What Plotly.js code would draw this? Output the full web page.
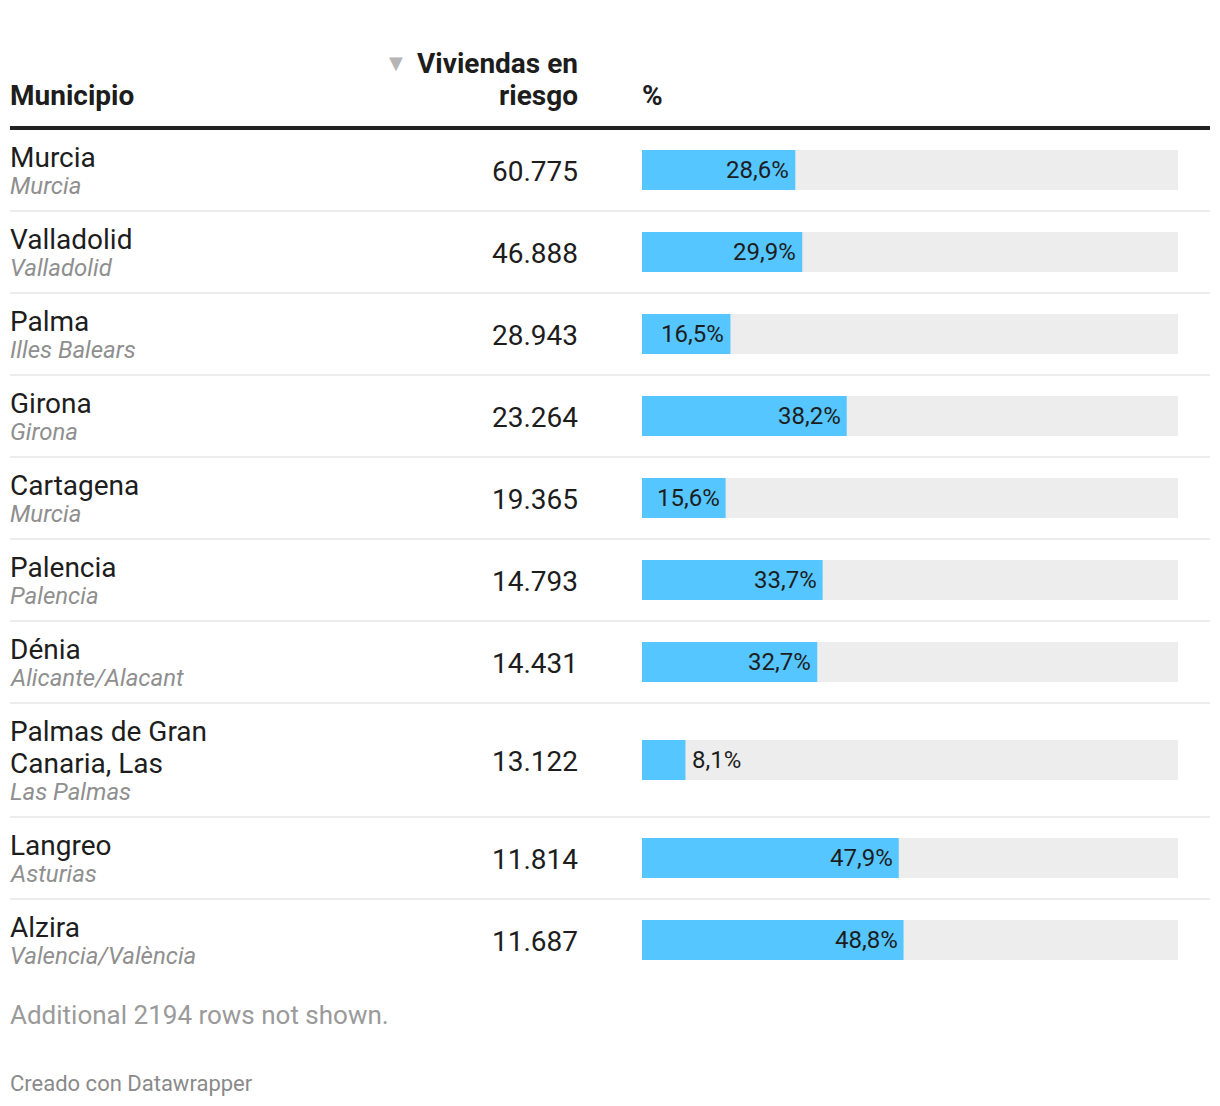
<!DOCTYPE html>
<html>
<head>
<meta charset="utf-8">
<script src="https://cdn.plot.ly/plotly-3.0.1.min.js"></script>
<style>
  html, body { margin: 0; padding: 0; background: #ffffff; }
  #chart { width: 1220px; height: 1106px; }
</style>
</head>
<body>
<div id="chart"></div>
<script>
// ---- Data ----
const municipios = ["Murcia", "Valladolid", "Palma", "Girona", "Cartagena", "Palencia", "Dénia", "Palmas de Gran Canaria, Las", "Langreo", "Alzira"];
const provincias = ["Murcia", "Valladolid", "Illes Balears", "Girona", "Murcia", "Palencia", "Alicante/Alacant", "Las Palmas", "Asturias", "Valencia/València"];
const viviendas = [60775, 46888, 28943, 23264, 19365, 14793, 14431, 13122, 11814, 11687];
const porcentaje = [28.6, 29.9, 16.5, 38.2, 15.6, 33.7, 32.7, 8.1, 47.9, 48.8];
const headers = ["Municipio", "Viviendas en<br>riesgo", "%"];
const notaFilas = "Additional 2194 rows not shown.";
const credito = "Creado con Datawrapper";

// ---- Layout helpers ----
const W = 1220, H = 1106;
const FONT = "Roboto, 'Open Sans', sans-serif";
const px = v => v / W;
const LEFT = 8, NUM_RIGHT = 580, PCT_LEFT = 640;

function wrap(text, maxChars) {
  const words = text.split(" ");
  const lines = [];
  let cur = "";
  words.forEach(w => {
    const test = cur ? cur + " " + w : w;
    if (test.length > maxChars && cur) { lines.push(cur); cur = w; }
    else cur = test;
  });
  if (cur) lines.push(cur);
  return lines;
}
function fmtInt(n) { return String(n).replace(/\B(?=(\d{3})+(?!\d))/g, "."); }
function fmtPct(v) { return v.toFixed(1).replace(".", ",") + "%"; }

const nameLines = municipios.map(m => wrap(m, 18));
const centers = [];
const bottoms = [];
let rowTop = 129;
nameLines.forEach(lines => {
  const h = 82 + 32 * (lines.length - 1);
  centers.push(rowTop + h / 2);
  bottoms.push(rowTop + h);
  rowTop += h;
});

const annotations = [];
const shapes = [];

// Header
const hdrFont = { family: FONT, size: 28, weight: 700, color: "#1d1d1d" };
annotations.push({ xref: "paper", yref: "y", x: px(LEFT), y: 95, xanchor: "left", yanchor: "middle",
  text: headers[0], showarrow: false, font: hdrFont });
const hdr2 = headers[1].split("<br>");
hdr2.forEach((t, i) => annotations.push({ xref: "paper", yref: "y", x: px(NUM_RIGHT), y: 63 + 32 * i, xanchor: "right", yanchor: "middle",
  text: t, showarrow: false, font: hdrFont }));
annotations.push({ xref: "paper", yref: "y", x: px(396), y: 62, xanchor: "center", yanchor: "middle",
  text: "▼", showarrow: false, font: { family: "DejaVu Sans", size: 18, color: "#b5b5b5" } });
annotations.push({ xref: "paper", yref: "y", x: px(PCT_LEFT), y: 95, xanchor: "left", yanchor: "middle",
  text: headers[2], showarrow: false, font: hdrFont });

shapes.push({ type: "line", xref: "paper", yref: "y", x0: px(10), x1: px(1210), y0: 128, y1: 128,
  line: { color: "#222222", width: 4 } });

// Rows
municipios.forEach((m, i) => {
  const c = centers[i];
  const lines = nameLines[i];
  const first = c - 13 - 16 * (lines.length - 1);
  lines.forEach((t, k) => annotations.push({ xref: "paper", yref: "y", x: px(LEFT), y: first + 32 * k,
    xanchor: "left", yanchor: "middle", text: t, showarrow: false,
    font: { family: FONT, size: 28, color: "#1d1d1d" } }));
  annotations.push({ xref: "paper", yref: "y", x: px(LEFT), y: first + 32 * (lines.length - 1) + 29,
    xanchor: "left", yanchor: "middle", text: provincias[i], showarrow: false,
    font: { family: FONT, size: 24, style: "italic", color: "#8f8f8f" } });
  annotations.push({ xref: "paper", yref: "y", x: px(NUM_RIGHT), y: c + 1, xanchor: "right", yanchor: "middle",
    text: fmtInt(viviendas[i]), showarrow: false, font: { family: FONT, size: 28, color: "#1d1d1d" } });
  const inside = porcentaje[i] > 12;
  annotations.push({ xref: "x", yref: "y", x: porcentaje[i], y: c, xanchor: inside ? "right" : "left",
    xshift: inside ? -4 : 5, yanchor: "middle", text: fmtPct(porcentaje[i]), showarrow: false,
    font: { family: FONT, size: 24, color: "#1d1d1d" } });
  if (i < municipios.length - 1) {
    shapes.push({ type: "line", xref: "paper", yref: "y", x0: px(10), x1: px(1210), y0: bottoms[i], y1: bottoms[i],
      line: { color: "#ececec", width: 2 } });
  }
});

// Footer
annotations.push({ xref: "paper", yref: "y", x: px(LEFT), y: 1015, xanchor: "left", yanchor: "middle",
  text: notaFilas, showarrow: false, font: { family: FONT, size: 26, color: "#9a9a9a" } });
annotations.push({ xref: "paper", yref: "y", x: px(LEFT), y: 1083, xanchor: "left", yanchor: "middle",
  text: credito, showarrow: false, font: { family: FONT, size: 22, color: "#8a8a8a" } });

const traces = [
  { type: "bar", orientation: "h", x: porcentaje.map(() => 100), y: centers, width: 40,
    marker: { color: "#ededed" }, hoverinfo: "skip", showlegend: false },
  { type: "bar", orientation: "h", x: porcentaje, y: centers, width: 40,
    marker: { color: "#55c6ff" }, hoverinfo: "skip", showlegend: false }
];

const layout = {
  width: W, height: H,
  margin: { l: 0, r: 0, t: 0, b: 0 },
  paper_bgcolor: "#ffffff", plot_bgcolor: "#ffffff",
  barmode: "overlay",
  xaxis: { domain: [px(642), px(1178)], range: [0, 100], visible: false, fixedrange: true },
  yaxis: { domain: [0, 1], range: [H, 0], visible: false, fixedrange: true },
  annotations: annotations,
  shapes: shapes,
  showlegend: false
};

Plotly.newPlot("chart", traces, layout, { displayModeBar: false, staticPlot: true });
</script>
</body>
</html>
